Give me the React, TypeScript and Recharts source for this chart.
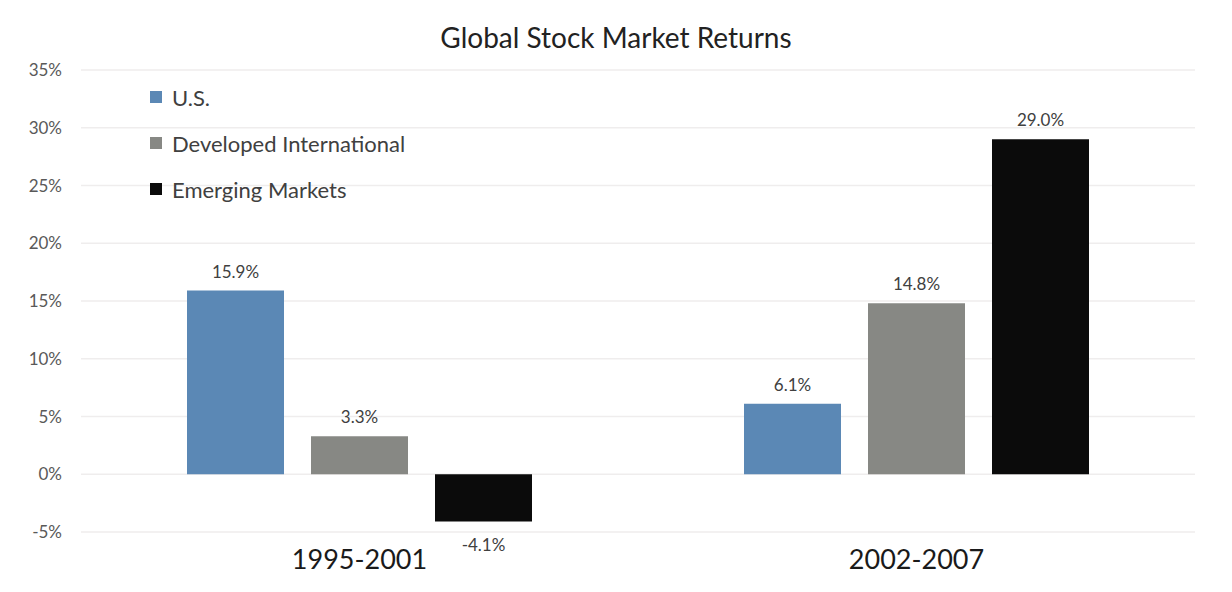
import React from 'react';
import { BarChart, Bar, XAxis, YAxis, CartesianGrid, LabelList } from 'recharts';

const periods = ['1995-2001', '2002-2007'];
const usReturns = [15.9, 6.1];
const developedReturns = [3.3, 14.8];
const emergingReturns = [-4.1, 29.0];
const yTicks = [-5, 0, 5, 10, 15, 20, 25, 30, 35];

const series = [
  { key: 'us', name: 'U.S.', color: '#5b88b5' },
  { key: 'developed', name: 'Developed International', color: '#878884' },
  { key: 'emerging', name: 'Emerging Markets', color: '#0b0b0b' },
];

const data = periods.map((period, i) => ({
  period,
  us: usReturns[i],
  developed: developedReturns[i],
  emerging: emergingReturns[i],
}));

const FONT = 'Lato, "Open Sans", sans-serif';

// value label above positive bars, below negative ones
const ValueLabel = (props: any) => {
  const { x, y, width, height, value } = props;
  const cx = x + width / 2;
  const top = Math.min(y, y + height);
  const bottom = Math.max(y, y + height);
  const ty = value < 0 ? bottom + 29 : top - 13;
  return (
    <text x={cx} y={ty} textAnchor="middle" fontSize={17} fill="#404040" fontFamily={FONT}>
      {value.toFixed(1)}%
    </text>
  );
};

export default function App() {
  return (
    <div style={{ position: 'absolute', left: 0, top: 0, width: 1232, height: 592, background: '#fff' }}>
      <div
        style={{
          position: 'absolute',
          top: 20,
          left: 0,
          width: 1232,
          textAlign: 'center',
          fontFamily: FONT,
          fontSize: 28,
          color: '#222',
        }}
      >
        Global Stock Market Returns
      </div>
      <BarChart
        width={1232}
        height={592}
        data={data}
        margin={{ top: 70, right: 37, bottom: 0, left: 0 }}
        barSize={97}
        barGap={27}
      >
        <CartesianGrid vertical={false} stroke="#efeded" strokeWidth={1.5} />
        <XAxis
          dataKey="period"
          axisLine={false}
          tickLine={false}
          tickSize={0}
          tickMargin={18}
          height={60}
          tick={{ fontSize: 27, fill: '#1a1a1a', fontFamily: FONT }}
        />
        <YAxis
          domain={[-5, 35]}
          ticks={yTicks}
          width={81}
          axisLine={false}
          tickLine={false}
          tickSize={0}
          tickMargin={19}
          tickFormatter={(v: number) => `${v}%`}
          tick={{ fontSize: 17, fill: '#595959', fontFamily: FONT }}
        />
        {series.map((s) => (
          <Bar key={s.key} dataKey={s.key} name={s.name} fill={s.color} isAnimationActive={false}>
            <LabelList dataKey={s.key} content={ValueLabel} />
          </Bar>
        ))}
      </BarChart>
      {/* legend sits inside the plot, top left */}
      <div style={{ position: 'absolute', left: 150, top: 74, fontFamily: FONT }}>
        {series.map((s) => (
          <div
            key={s.key}
            style={{ display: 'flex', alignItems: 'center', height: 46, fontSize: 22, color: '#404040' }}
          >
            <span style={{ display: 'inline-block', width: 12, height: 12, background: s.color, marginRight: 10 }} />
            {s.name}
          </div>
        ))}
      </div>
    </div>
  );
}
